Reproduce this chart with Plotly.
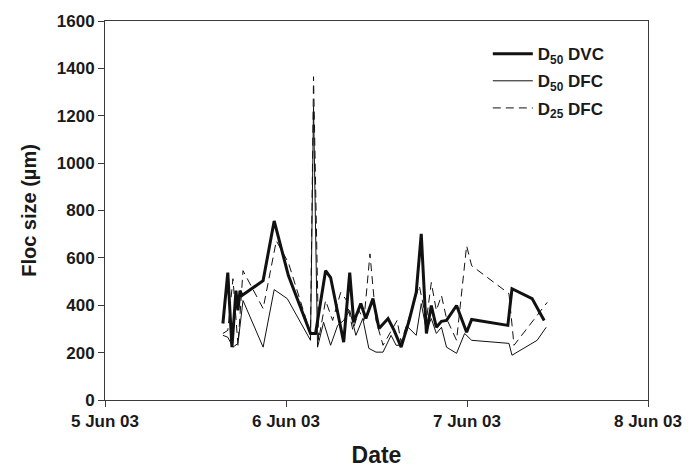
import plotly.graph_objects as go

# D50 DVC (thick solid)
dvc_time = ["2003-06-05 15:38", "2003-06-05 16:17", "2003-06-05 16:50", "2003-06-05 17:22",
            "2003-06-05 17:38", "2003-06-05 17:54", "2003-06-05 18:10", "2003-06-05 20:58",
            "2003-06-05 22:26", "2003-06-06 00:19", "2003-06-06 03:15", "2003-06-06 03:55",
            "2003-06-06 05:15", "2003-06-06 05:55", "2003-06-06 07:39", "2003-06-06 08:27",
            "2003-06-06 08:59", "2003-06-06 09:55", "2003-06-06 10:35", "2003-06-06 11:32",
            "2003-06-06 12:20", "2003-06-06 13:32", "2003-06-06 14:20", "2003-06-06 15:16",
            "2003-06-06 16:20", "2003-06-06 17:16", "2003-06-06 17:56", "2003-06-06 18:37",
            "2003-06-06 19:16", "2003-06-06 19:56", "2003-06-06 20:37", "2003-06-06 21:17",
            "2003-06-06 22:37", "2003-06-06 23:57", "2003-06-07 00:37", "2003-06-07 05:25",
            "2003-06-07 05:58", "2003-06-07 08:38", "2003-06-07 10:14"]
dvc_val = [323, 538, 223, 462, 378, 462, 441, 504, 756, 525, 281, 281, 546, 517, 244, 538,
           328, 407, 344, 428, 302, 344, 294, 223, 336, 454, 701, 281, 399, 307, 332, 336,
           399, 286, 340, 315, 470, 428, 336]

# D50 DFC (thin solid)
dfc50_time = ["2003-06-05 15:38", "2003-06-05 16:17", "2003-06-05 16:58", "2003-06-05 17:38",
              "2003-06-05 18:18", "2003-06-05 20:58", "2003-06-05 22:26", "2003-06-06 00:10",
              "2003-06-06 03:15", "2003-06-06 03:39", "2003-06-06 04:11", "2003-06-06 04:59",
              "2003-06-06 05:55", "2003-06-06 06:51", "2003-06-06 07:39", "2003-06-06 08:27",
              "2003-06-06 09:16", "2003-06-06 10:11", "2003-06-06 10:59", "2003-06-06 11:56",
              "2003-06-06 12:52", "2003-06-06 13:56", "2003-06-06 14:36", "2003-06-06 15:16",
              "2003-06-06 16:12", "2003-06-06 17:16", "2003-06-06 17:56", "2003-06-06 18:37",
              "2003-06-06 19:16", "2003-06-06 19:56", "2003-06-06 20:37", "2003-06-06 21:17",
              "2003-06-06 22:37", "2003-06-06 23:41", "2003-06-07 00:37", "2003-06-07 05:34",
              "2003-06-07 05:58", "2003-06-07 09:18", "2003-06-07 10:30"]
dfc50_val = [273, 265, 223, 239, 420, 223, 466, 428, 252, 1239, 223, 328, 231, 315, 336, 378,
             273, 344, 218, 202, 202, 273, 231, 231, 307, 273, 407, 294, 344, 281, 307, 223,
             197, 281, 252, 239, 189, 252, 307]

# D25 DFC (dashed)
dfc25_time = ["2003-06-05 15:38", "2003-06-05 16:17", "2003-06-05 16:58", "2003-06-05 17:38",
              "2003-06-05 18:18", "2003-06-05 20:58", "2003-06-05 22:43", "2003-06-06 00:19",
              "2003-06-06 03:15", "2003-06-06 03:39", "2003-06-06 04:19", "2003-06-06 05:15",
              "2003-06-06 06:11", "2003-06-06 07:15", "2003-06-06 08:03", "2003-06-06 08:52",
              "2003-06-06 09:40", "2003-06-06 10:20", "2003-06-06 11:08", "2003-06-06 11:56",
              "2003-06-06 12:52", "2003-06-06 13:56", "2003-06-06 14:44", "2003-06-06 15:16",
              "2003-06-06 16:12", "2003-06-06 17:00", "2003-06-06 17:40", "2003-06-06 18:37",
              "2003-06-06 19:16", "2003-06-06 19:56", "2003-06-06 20:37", "2003-06-06 21:17",
              "2003-06-06 22:37", "2003-06-06 23:57", "2003-06-07 00:37", "2003-06-07 05:34",
              "2003-06-07 06:14", "2003-06-07 10:38"]
dfc25_val = [281, 294, 512, 231, 546, 386, 672, 580, 281, 1365, 252, 420, 336, 454, 420, 294,
             378, 336, 617, 336, 231, 294, 336, 244, 336, 420, 483, 336, 496, 378, 441, 344,
             252, 651, 567, 449, 231, 412]

x_tickvals = ["2003-06-05", "2003-06-06", "2003-06-07", "2003-06-08"]
x_ticktext = ["5 Jun 03", "6 Jun 03", "7 Jun 03", "8 Jun 03"]
y_tickvals = [0, 200, 400, 600, 800, 1000, 1200, 1400, 1600]

FONT = "Liberation Sans, Arial, sans-serif"
AX = "#3a3a3a"

fig = go.Figure()
fig.add_trace(go.Scatter(x=dvc_time, y=dvc_val, mode="lines", name="D<sub>50</sub> DVC",
                         legendgroup="a", line=dict(color="#111111", width=3)))
fig.add_trace(go.Scatter(x=dfc50_time, y=dfc50_val, mode="lines", name="D<sub>50</sub> DFC",
                         legendgroup="b", line=dict(color="#111111", width=1)))
fig.add_trace(go.Scatter(x=dfc25_time, y=dfc25_val, mode="lines", name="D<sub>25</sub> DFC",
                         legendgroup="c", line=dict(color="#111111", width=1, dash="8px,5px")))

fig.update_layout(
    width=695, height=476,
    margin=dict(l=105, r=47, t=19, b=76),
    plot_bgcolor="white", paper_bgcolor="white",
    font=dict(family=FONT, color="#1a1a1a", size=15, weight="bold"),
    showlegend=True,
    legend=dict(x=0.705, y=0.96, xanchor="left", yanchor="top",
                bgcolor="rgba(0,0,0,0)", font=dict(size=17, family=FONT, weight="bold"),
                tracegroupgap=2, itemwidth=40),
    xaxis=dict(
        type="date", range=["2003-06-05", "2003-06-08"],
        tickvals=x_tickvals, ticktext=x_ticktext,
        showgrid=False, zeroline=False,
        showline=True, linecolor=AX, linewidth=1, mirror=True,
        ticks="outside", ticklen=6, tickcolor=AX,
        tickfont=dict(size=17, family=FONT, weight="bold"),
        title=dict(text="Date", font=dict(size=23, family=FONT, weight="bold"), standoff=16),
    ),
    yaxis=dict(
        range=[0, 1600], tickvals=y_tickvals,
        showgrid=False, zeroline=False,
        showline=True, linecolor=AX, linewidth=1, mirror=True,
        ticks="outside", ticklen=6, tickcolor=AX,
        tickfont=dict(size=17, family=FONT, weight="bold"),
        title=dict(text="Floc size (µm)", font=dict(size=20, family=FONT, weight="bold"), standoff=14),
    ),
)

fig.write_html("out.html")
